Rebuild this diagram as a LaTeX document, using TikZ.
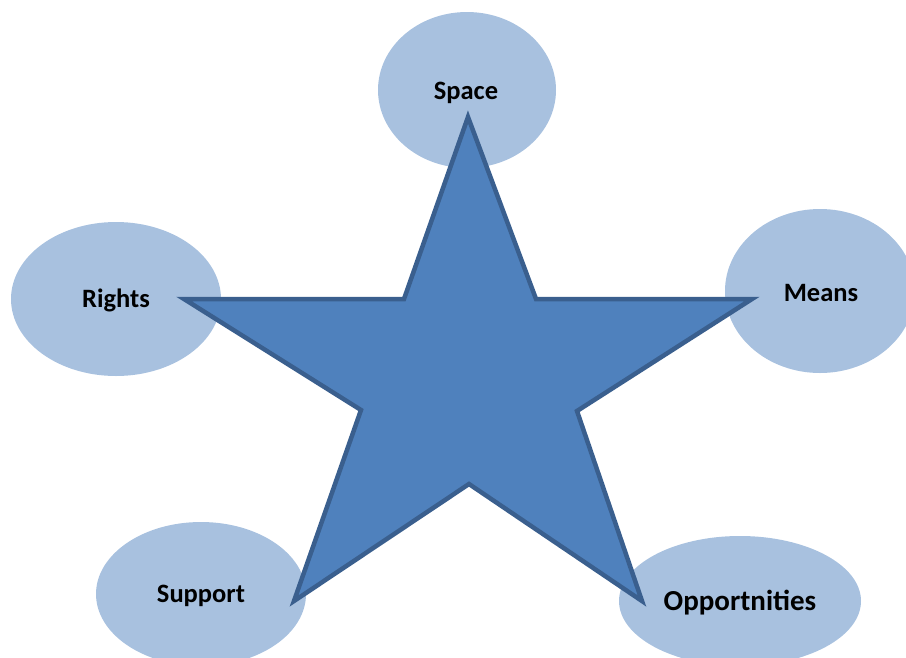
\documentclass[tikz,border=0pt]{standalone}
\usepackage{fontspec}
\setmainfont{Carlito}
\usetikzlibrary{shapes.geometric}
\definecolor{bubble}{HTML}{A8C1DF}
\definecolor{starfill}{HTML}{4F81BD}
\definecolor{starline}{HTML}{3A5F8E}
\tikzset{
  bubble/.style={ellipse, fill=bubble, inner sep=0pt},
  lbl/.style={font=\bfseries\fontsize{26.5}{30}\selectfont, inner sep=0pt},
  starshape/.style={fill=starfill, draw=starline, line width=4.5pt, line join=miter, miter limit=20}
}
\begin{document}
\begin{tikzpicture}[x=1pt,y=-1pt]
\useasboundingbox (0,0) rectangle (906,657);
% outer ellipses
\node[bubble, minimum width=178pt, minimum height=156pt] (space) at (467,90) {};
\node[bubble, minimum width=210pt, minimum height=154pt] (rights) at (116,299) {};
\node[bubble, minimum width=190pt, minimum height=164pt] (means) at (820,291) {};
\node[bubble, minimum width=210pt, minimum height=144pt] (support) at (201,594) {};
\node[bubble, minimum width=242pt, minimum height=130pt] (opp) at (740,601) {};
% star corners
\coordinate (t) at (468,117);
\coordinate (ir) at (536,299);
\coordinate (r) at (752,299);
\coordinate (irl) at (577,411);
\coordinate (br) at (642,601);
\coordinate (ib) at (469,484);
\coordinate (bl) at (294,601);
\coordinate (ill) at (361,410);
\coordinate (l) at (184,299);
\coordinate (il) at (404,299);
\draw[starshape] (t) -- (ir) -- (r) -- (irl) -- (br) -- (ib) -- (bl) -- (ill) -- (l) -- (il) -- cycle;
% labels
\node[lbl] (spacelbl) at (466,93) {Space};
\node[lbl] (rightslbl) at (116,300) {Rights};
\node[lbl] (meanslbl) at (821,293) {Means};
\node[lbl] (supportlbl) at (201,596) {Support};
\node[lbl, font=\bfseries\fontsize{29}{33}\selectfont] (opplbl) at (740,603) {Opportnities};
\end{tikzpicture}
\end{document}
